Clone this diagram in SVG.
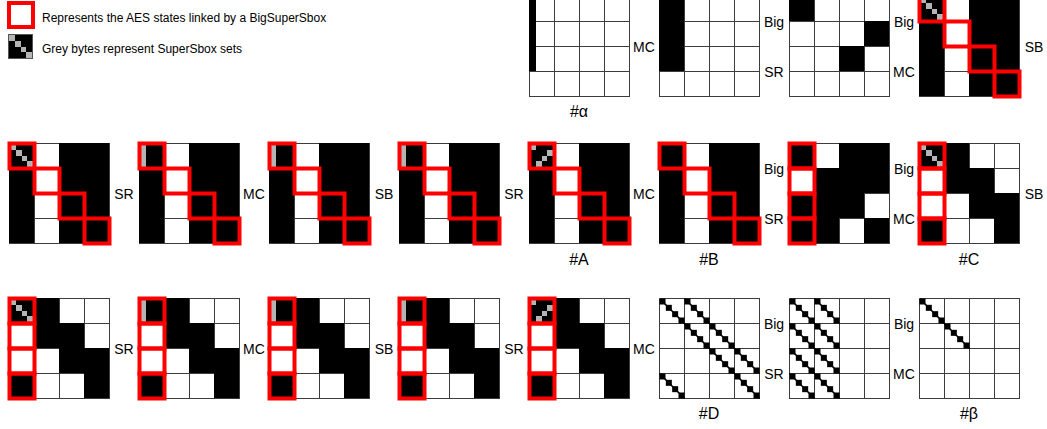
<svg xmlns="http://www.w3.org/2000/svg" xmlns:xlink="http://www.w3.org/1999/xlink" width="1047" height="429" viewBox="0 0 1047 429">
<style>
.gl{fill:none;stroke:#3c3c3c;stroke-width:1;shape-rendering:crispEdges}
.k{fill:#000;shape-rendering:crispEdges}
.g{fill:#b4b4b4;shape-rendering:crispEdges}
.red{fill:none;stroke:#ff0000;stroke-width:4}
.lbl{font-family:"Liberation Sans",Arial,sans-serif;font-size:14px;fill:#000;text-anchor:middle}
.cap{font-family:"Liberation Sans",Arial,sans-serif;font-size:16px;fill:#000;text-anchor:middle}
.leg{font-family:"Liberation Sans",Arial,sans-serif;font-size:12px;fill:#000}
</style>
<defs>
<path id="gl" class="gl" d="M0.5 0.5H100.5M0.5 25.5H100.5M0.5 50.5H100.5M0.5 75.5H100.5M0.5 100.5H100.5M0.5 0.5V100.5M25.5 0.5V100.5M50.5 0.5V100.5M75.5 0.5V100.5M100.5 0.5V100.5"/>
<g id="p1" class="k"><rect x="0" y="0" width="25" height="100"/><rect x="50" y="0" width="50" height="100"/></g>
<g id="p2" class="k"><rect x="0" y="0" width="25" height="25"/><rect x="50" y="0" width="50" height="25"/><rect x="25" y="25" width="75" height="25"/><rect x="0" y="50" width="75" height="25"/><rect x="0" y="75" width="50" height="25"/><rect x="75" y="75" width="25" height="25"/></g>
<g id="p3" class="k"><rect x="0" y="0" width="50" height="25"/><rect x="25" y="25" width="50" height="25"/><rect x="50" y="50" width="50" height="25"/><rect x="0" y="75" width="25" height="25"/><rect x="75" y="75" width="25" height="25"/></g>
<g id="gd" class="g"><rect x="1" y="1" width="5.75" height="5.75"/><rect x="6.75" y="6.75" width="5.75" height="5.75"/><rect x="12.5" y="12.5" width="5.75" height="5.75"/><rect x="18.25" y="18.25" width="5.75" height="5.75"/></g>
<g id="gs" class="g"><rect x="1" y="1" width="5.75" height="23"/></g>
<g id="gr" class="g"><rect x="1" y="1" width="5.75" height="5.75"/><rect x="18.25" y="6.75" width="5.75" height="5.75"/><rect x="12.5" y="12.5" width="5.75" height="5.75"/><rect x="6.75" y="18.25" width="5.75" height="5.75"/></g>
<g id="rd" class="red"><rect x="0.5" y="0.5" width="25" height="25"/><rect x="25.5" y="25.5" width="25" height="25"/><rect x="50.5" y="50.5" width="25" height="25"/><rect x="75.5" y="75.5" width="25" height="25"/></g>
<g id="rc" class="red"><rect x="0.5" y="0.5" width="25" height="25"/><rect x="0.5" y="25.5" width="25" height="25"/><rect x="0.5" y="50.5" width="25" height="25"/><rect x="0.5" y="75.5" width="25" height="25"/></g>
<g id="dd"><path d="M0.5 0.5L25.5 25.5" stroke="#000" stroke-width="1.6"/><rect x="0.5" y="0.5" width="6" height="6"/><rect x="6.83" y="6.83" width="6" height="6"/><rect x="13.17" y="13.17" width="6" height="6"/><rect x="19.5" y="19.5" width="6" height="6"/></g>
</defs>
<rect x="0" y="0" width="1047" height="429" fill="#fff"/>

<g id="legend">
<rect x="9" y="3" width="24" height="24" class="red"/>
<text x="42" y="22" class="leg">Represents the AES states linked by a BigSuperSbox</text>
<rect x="8.5" y="34.5" width="24" height="24" fill="#000" stroke="#555" stroke-width="1"/>
<g transform="translate(8,34)"><use xlink:href="#gd" href="#gd"/></g>
<text x="42" y="53" class="leg">Grey bytes represent SuperSbox sets</text>
</g>

<!-- Row 1 -->
<g id="alpha" transform="translate(529,-4)"><use href="#gl" xlink:href="#gl"/><rect class="k" x="0" y="0" width="6.5" height="75"/></g>
<g id="r1g2" transform="translate(659,-4)"><use href="#gl" xlink:href="#gl"/><rect class="k" x="0" y="0" width="25" height="75"/></g>
<g id="r1g3" transform="translate(789,-4)"><use href="#gl" xlink:href="#gl"/><rect class="k" x="0" y="0" width="25" height="25"/><rect class="k" x="75" y="25" width="25" height="25"/><rect class="k" x="50" y="50" width="25" height="25"/></g>
<g id="r1g4" transform="translate(919,-4)"><use href="#gl" xlink:href="#gl"/><use href="#p1" xlink:href="#p1"/><use href="#gd" xlink:href="#gd"/><use href="#rd" xlink:href="#rd"/></g>

<!-- Row 2 -->
<g id="r2g1" transform="translate(9,143)"><use href="#gl" xlink:href="#gl"/><use href="#p1" xlink:href="#p1"/><use href="#gd" xlink:href="#gd"/><use href="#rd" xlink:href="#rd"/></g>
<g id="r2g2" transform="translate(139,143)"><use href="#gl" xlink:href="#gl"/><use href="#p1" xlink:href="#p1"/><use href="#gs" xlink:href="#gs"/><use href="#rd" xlink:href="#rd"/></g>
<g id="r2g3" transform="translate(269,143)"><use href="#gl" xlink:href="#gl"/><use href="#p1" xlink:href="#p1"/><use href="#gs" xlink:href="#gs"/><use href="#rd" xlink:href="#rd"/></g>
<g id="r2g4" transform="translate(399,143)"><use href="#gl" xlink:href="#gl"/><use href="#p1" xlink:href="#p1"/><use href="#gs" xlink:href="#gs"/><use href="#rd" xlink:href="#rd"/></g>
<g id="stateA" transform="translate(529,143)"><use href="#gl" xlink:href="#gl"/><use href="#p1" xlink:href="#p1"/><use href="#gr" xlink:href="#gr"/><use href="#rd" xlink:href="#rd"/></g>
<g id="stateB" transform="translate(659,143)"><use href="#gl" xlink:href="#gl"/><use href="#p1" xlink:href="#p1"/><use href="#rd" xlink:href="#rd"/></g>
<g id="r2g7" transform="translate(789,143)"><use href="#gl" xlink:href="#gl"/><use href="#p2" xlink:href="#p2"/><use href="#rc" xlink:href="#rc"/></g>
<g id="stateC" transform="translate(919,143)"><use href="#gl" xlink:href="#gl"/><use href="#p3" xlink:href="#p3"/><use href="#gd" xlink:href="#gd"/><use href="#rc" xlink:href="#rc"/></g>

<!-- Row 3 -->
<g id="r3g1" transform="translate(9,298)"><use href="#gl" xlink:href="#gl"/><use href="#p3" xlink:href="#p3"/><use href="#gd" xlink:href="#gd"/><use href="#rc" xlink:href="#rc"/></g>
<g id="r3g2" transform="translate(139,298)"><use href="#gl" xlink:href="#gl"/><use href="#p3" xlink:href="#p3"/><use href="#gs" xlink:href="#gs"/><use href="#rc" xlink:href="#rc"/></g>
<g id="r3g3" transform="translate(269,298)"><use href="#gl" xlink:href="#gl"/><use href="#p3" xlink:href="#p3"/><use href="#gs" xlink:href="#gs"/><use href="#rc" xlink:href="#rc"/></g>
<g id="r3g4" transform="translate(399,298)"><use href="#gl" xlink:href="#gl"/><use href="#p3" xlink:href="#p3"/><use href="#gs" xlink:href="#gs"/><use href="#rc" xlink:href="#rc"/></g>
<g id="r3g5" transform="translate(529,298)"><use href="#gl" xlink:href="#gl"/><use href="#p3" xlink:href="#p3"/><use href="#gr" xlink:href="#gr"/><use href="#rc" xlink:href="#rc"/></g>
<g id="stateD" transform="translate(659,298)"><use href="#gl" xlink:href="#gl"/>
<use href="#dd" xlink:href="#dd" x="0" y="0"/><use href="#dd" xlink:href="#dd" x="25" y="0"/>
<use href="#dd" xlink:href="#dd" x="25" y="25"/><use href="#dd" xlink:href="#dd" x="50" y="25"/>
<use href="#dd" xlink:href="#dd" x="50" y="50"/><use href="#dd" xlink:href="#dd" x="75" y="50"/>
<use href="#dd" xlink:href="#dd" x="0" y="75"/><use href="#dd" xlink:href="#dd" x="75" y="75"/></g>
<g id="r3g7" transform="translate(789,298)"><use href="#gl" xlink:href="#gl"/>
<use href="#dd" xlink:href="#dd" x="0" y="0"/><use href="#dd" xlink:href="#dd" x="25" y="0"/>
<use href="#dd" xlink:href="#dd" x="0" y="25"/><use href="#dd" xlink:href="#dd" x="25" y="25"/>
<use href="#dd" xlink:href="#dd" x="0" y="50"/><use href="#dd" xlink:href="#dd" x="25" y="50"/>
<use href="#dd" xlink:href="#dd" x="0" y="75"/><use href="#dd" xlink:href="#dd" x="25" y="75"/></g>
<g id="beta" transform="translate(919,298)"><use href="#gl" xlink:href="#gl"/>
<use href="#dd" xlink:href="#dd" x="0" y="0"/><use href="#dd" xlink:href="#dd" x="25" y="25"/></g>

<g id="connectors">
<!-- Row 1 labels -->
<text class="lbl" x="644" y="52">MC</text>
<text class="lbl" x="774" y="27">Big</text>
<text class="lbl" x="774" y="77">SR</text>
<text class="lbl" x="904" y="27">Big</text>
<text class="lbl" x="904" y="77">MC</text>
<text class="lbl" x="1034" y="52">SB</text>
<!-- Row 2 labels -->
<text class="lbl" x="124" y="199">SR</text>
<text class="lbl" x="254" y="199">MC</text>
<text class="lbl" x="384" y="199">SB</text>
<text class="lbl" x="514" y="199">SR</text>
<text class="lbl" x="644" y="199">MC</text>
<text class="lbl" x="774" y="174">Big</text>
<text class="lbl" x="774" y="224">SR</text>
<text class="lbl" x="904" y="174">Big</text>
<text class="lbl" x="904" y="224">MC</text>
<text class="lbl" x="1034" y="199">SB</text>
<!-- Row 3 labels -->
<text class="lbl" x="124" y="354">SR</text>
<text class="lbl" x="254" y="354">MC</text>
<text class="lbl" x="384" y="354">SB</text>
<text class="lbl" x="514" y="354">SR</text>
<text class="lbl" x="644" y="354">MC</text>
<text class="lbl" x="774" y="329">Big</text>
<text class="lbl" x="774" y="379">SR</text>
<text class="lbl" x="904" y="329">Big</text>
<text class="lbl" x="904" y="379">MC</text>
</g>

<g id="captions">
<text class="cap" x="579" y="117">#α</text>
<text class="cap" x="579" y="265">#A</text>
<text class="cap" x="709" y="265">#B</text>
<text class="cap" x="969" y="265">#C</text>
<text class="cap" x="709" y="419">#D</text>
<text class="cap" x="969" y="419">#β</text>
</g>
</svg>
